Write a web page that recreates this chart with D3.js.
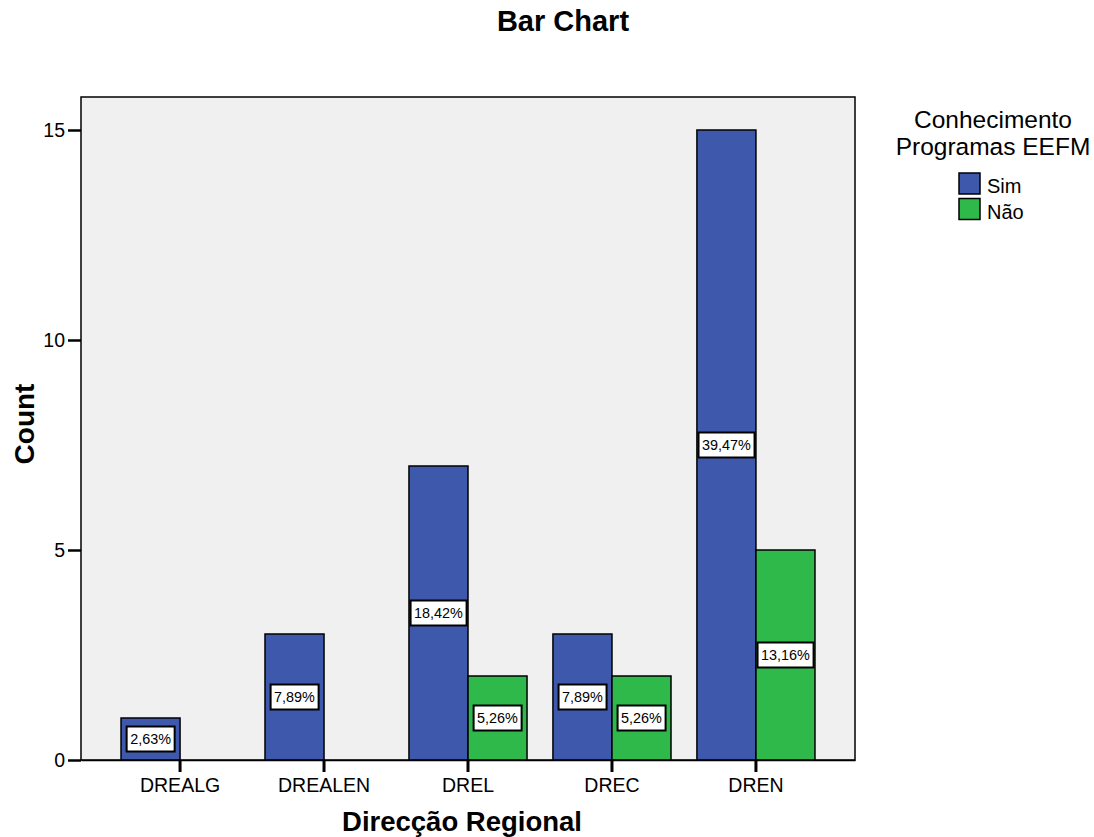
<!DOCTYPE html>
<html>
<head>
<meta charset="utf-8">
<script src="https://cdn.jsdelivr.net/npm/d3@7"></script>
<style>
  body { margin: 0; background: #fff; }
  text { font-family: "Liberation Sans", Arial, Helvetica, sans-serif; fill: #000; }
</style>
</head>
<body>
<svg id="chart" width="1094" height="837"></svg>
<script>
// Regional directorates on the x axis
const categories = ["DREALG", "DREALEN", "DREL", "DREC", "DREN"];
// Responses: knows the EEFM programmes?
const seriesNames = ["Sim", "Não"];
const simCounts = [1, 3, 7, 3, 15];
const naoCounts = [0, 0, 2, 2, 5];
// Percentage of all respondents shown inside each bar
const simLabels = ["2,63%", "7,89%", "18,42%", "7,89%", "39,47%"];
const naoLabels = ["", "", "5,26%", "5,26%", "13,16%"];
const yTicks = [0, 5, 10, 15];
const colors = ["#3e58ac", "#2fb94a"];

const rows = categories.map((c, i) => ({
  cat: c,
  vals: [
    { key: seriesNames[0], v: simCounts[i], label: simLabels[i], s: 0 },
    { key: seriesNames[1], v: naoCounts[i], label: naoLabels[i], s: 1 }
  ]
}));

const svg = d3.select("#chart");
const plot = { left: 81, right: 855, top: 97, bottom: 760 };

const x = d3.scaleBand()
  .domain(categories)
  .range([plot.left, plot.right])
  .paddingInner(0.18)
  .paddingOuter(0.278);
const xs = d3.scaleBand()
  .domain(seriesNames)
  .range([0, x.bandwidth()]);
const y = d3.scaleLinear()
  .domain([0, 15])
  .range([plot.bottom, 130]);

// Plot background
svg.append("rect")
  .attr("x", plot.left).attr("y", plot.top)
  .attr("width", plot.right - plot.left).attr("height", plot.bottom - plot.top)
  .attr("fill", "#f0f0f0").attr("stroke", "#000").attr("stroke-width", 1.5);

// Bars
const groups = svg.append("g").selectAll("g")
  .data(rows).join("g")
  .attr("transform", d => `translate(${x(d.cat)},0)`);

groups.selectAll("rect.bar")
  .data(d => d.vals.filter(v => v.v > 0))
  .join("rect")
  .attr("class", "bar")
  .attr("x", d => xs(d.key))
  .attr("y", d => y(d.v))
  .attr("width", xs.bandwidth())
  .attr("height", d => y(0) - y(d.v))
  .attr("fill", d => colors[d.s])
  .attr("stroke", "#000")
  .attr("stroke-width", 1.5);

// Value labels in boxes at bar mid-height
const lab = groups.selectAll("g.lab")
  .data(d => d.vals.filter(v => v.v > 0 && v.label))
  .join("g")
  .attr("class", "lab")
  .attr("transform", d => `translate(${xs(d.key) + xs.bandwidth() / 2},${y(d.v / 2)})`);

lab.append("text")
  .attr("text-anchor", "middle")
  .attr("dy", "0.36em")
  .style("font-size", "14.4px")
  .text(d => d.label)
  .each(function () {
    const b = this.getBBox();
    d3.select(this.parentNode).insert("rect", "text")
      .attr("x", b.x - 3.5).attr("y", -12.5)
      .attr("width", b.width + 7).attr("height", 25)
      .attr("fill", "#fff").attr("stroke", "#000").attr("stroke-width", 2);
  });

// X axis
const xAxis = svg.append("g")
  .attr("transform", `translate(0,${plot.bottom})`)
  .call(d3.axisBottom(x).tickSize(12).tickSizeOuter(0).tickPadding(6));
xAxis.select(".domain").attr("stroke", "#000").attr("stroke-width", 1.5);
xAxis.selectAll(".tick line").remove();
xAxis.selectAll(".tick text").style("font-size", "19.5px").attr("fill", "#000");

// Category tick marks below the axis line
svg.append("g").attr("class", "xticks").selectAll("rect")
  .data(categories).join("rect")
  .attr("x", d => x(d) + x.bandwidth() / 2 - 1.5)
  .attr("y", plot.bottom)
  .attr("width", 3)
  .attr("height", 12)
  .style("fill", "#000");

// Y axis
const yAxis = svg.append("g")
  .attr("transform", `translate(${plot.left},0)`)
  .call(d3.axisLeft(y).tickValues(yTicks).tickSize(13).tickSizeOuter(0).tickPadding(3));
yAxis.select(".domain").remove();
yAxis.selectAll(".tick line").attr("stroke", "#000").attr("stroke-width", 2.5);
yAxis.selectAll(".tick text").style("font-size", "19.5px").attr("fill", "#000");

// Titles
svg.append("text")
  .attr("x", 563).attr("y", 31)
  .attr("text-anchor", "middle")
  .style("font-size", "29px").style("font-weight", "bold")
  .text("Bar Chart");

svg.append("text")
  .attr("x", 462).attr("y", 831)
  .attr("text-anchor", "middle")
  .style("font-size", "27.5px").style("font-weight", "bold")
  .text("Direcção Regional");

svg.append("text")
  .attr("transform", "translate(34,424) rotate(-90)")
  .attr("text-anchor", "middle")
  .style("font-size", "28px").style("font-weight", "bold")
  .text("Count");

// Legend
const legend = svg.append("g");
legend.append("text")
  .attr("x", 993).attr("y", 128)
  .attr("text-anchor", "middle")
  .style("font-size", "24.5px")
  .text("Conhecimento");
legend.append("text")
  .attr("x", 993).attr("y", 155)
  .attr("text-anchor", "middle")
  .style("font-size", "24.5px")
  .text("Programas EEFM");

const li = legend.selectAll("g.item")
  .data(seriesNames).join("g")
  .attr("class", "item")
  .attr("transform", (d, i) => `translate(959,${173 + i * 25.5})`);
li.append("rect")
  .attr("width", 21).attr("height", 21)
  .attr("fill", (d, i) => colors[i])
  .attr("stroke", "#000").attr("stroke-width", 1.5);
li.append("text")
  .attr("x", 28).attr("y", 20)
  .style("font-size", "20px")
  .text(d => d);
</script>
</body>
</html>
